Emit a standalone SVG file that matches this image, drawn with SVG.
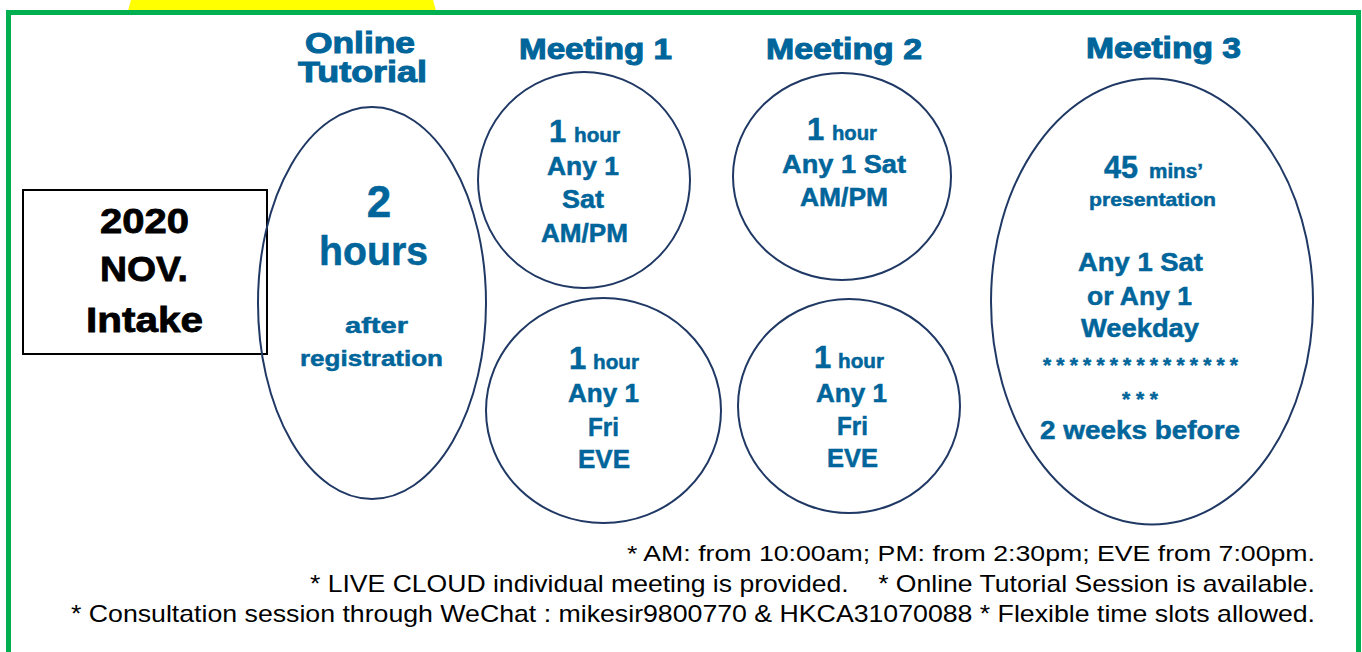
<svg xmlns="http://www.w3.org/2000/svg" width="1362" height="652" viewBox="0 0 1362 652">
<style>
.b{font-family:"Liberation Sans",Arial,sans-serif;font-weight:bold;fill:#00659A;stroke:#00659A;stroke-width:0.5;}
.h{font-size:29px;text-anchor:middle;stroke-width:1;}
.m{font-size:25px;text-anchor:middle;}
.big{font-size:31px;}
.sm{font-size:20px;}
.k{font-family:"Liberation Sans",Arial,sans-serif;font-weight:bold;fill:#000;stroke:#000;stroke-width:0.8;font-size:35px;text-anchor:middle;}
.n{font-family:"Liberation Sans",Arial,sans-serif;fill:#000;text-anchor:end;}
.ring{fill:none;stroke:#1F3864;stroke-width:2;}
</style>
<rect x="0" y="0" width="1362" height="652" fill="#fff"/>
<ellipse cx="282" cy="60" rx="160" ry="182" fill="#FFFF00"/>
<rect x="8.5" y="12.5" width="1350" height="700" fill="#fff" stroke="#00B050" stroke-width="5"/>

<g id="headers">
<text class="b h" x="360" y="53" textLength="110" lengthAdjust="spacingAndGlyphs">Online</text>
<text class="b h" x="362.5" y="82" textLength="129" lengthAdjust="spacingAndGlyphs">Tutorial</text>
<text class="b h" x="595.5" y="59" textLength="153" lengthAdjust="spacingAndGlyphs">Meeting 1</text>
<text class="b h" x="844" y="59" textLength="156" lengthAdjust="spacingAndGlyphs">Meeting 2</text>
<text class="b h" x="1163.5" y="58" textLength="155" lengthAdjust="spacingAndGlyphs">Meeting 3</text>
</g>

<g id="intake">
<rect x="23" y="190" width="244" height="164" fill="none" stroke="#000" stroke-width="2"/>
<text class="k" x="144.5" y="233" textLength="89" lengthAdjust="spacingAndGlyphs">2020</text>
<text class="k" x="144" y="281" textLength="88" lengthAdjust="spacingAndGlyphs">NOV.</text>
<text class="k" x="144.5" y="332" textLength="117" lengthAdjust="spacingAndGlyphs">Intake</text>
</g>

<g id="online-tutorial">
<ellipse class="ring" cx="372" cy="303" rx="114" ry="196"/>
<text class="b" x="379" y="217" font-size="44" text-anchor="middle">2</text>
<text class="b" x="373.5" y="265" font-size="40" text-anchor="middle" textLength="109" lengthAdjust="spacingAndGlyphs">hours</text>
<text class="b" x="376.5" y="333" font-size="22" text-anchor="middle" textLength="63" lengthAdjust="spacingAndGlyphs">after</text>
<text class="b" x="371.5" y="366" font-size="22" text-anchor="middle" textLength="143" lengthAdjust="spacingAndGlyphs">registration</text>
</g>

<g id="meeting1-sat">
<ellipse class="ring" cx="584" cy="180" rx="106" ry="108"/>
<text class="b big" x="549" y="142">1</text>
<text class="b sm" x="574" y="142" textLength="46" lengthAdjust="spacingAndGlyphs">hour</text>
<text class="b m" x="583" y="175" textLength="72" lengthAdjust="spacingAndGlyphs">Any 1</text>
<text class="b m" x="583" y="208" textLength="42" lengthAdjust="spacingAndGlyphs">Sat</text>
<text class="b m" x="584.5" y="242" textLength="87" lengthAdjust="spacingAndGlyphs">AM/PM</text>
</g>

<g id="meeting1-fri">
<ellipse class="ring" cx="603.5" cy="410.5" rx="117.5" ry="112.5"/>
<text class="b big" x="569" y="369">1</text>
<text class="b sm" x="593" y="369" textLength="46" lengthAdjust="spacingAndGlyphs">hour</text>
<text class="b m" x="603.5" y="402" textLength="71" lengthAdjust="spacingAndGlyphs">Any 1</text>
<text class="b m" x="603.5" y="436" textLength="31" lengthAdjust="spacingAndGlyphs">Fri</text>
<text class="b m" x="604" y="468" textLength="52" lengthAdjust="spacingAndGlyphs">EVE</text>
</g>

<g id="meeting2-sat">
<ellipse class="ring" cx="842" cy="176.5" rx="109" ry="103.5"/>
<text class="b big" x="807" y="140">1</text>
<text class="b sm" x="832" y="140" textLength="45" lengthAdjust="spacingAndGlyphs">hour</text>
<text class="b m" x="844" y="173" textLength="124" lengthAdjust="spacingAndGlyphs">Any 1 Sat</text>
<text class="b m" x="844" y="206" textLength="88" lengthAdjust="spacingAndGlyphs">AM/PM</text>
</g>

<g id="meeting2-fri">
<ellipse class="ring" cx="849" cy="406" rx="111" ry="107"/>
<text class="b big" x="814" y="368">1</text>
<text class="b sm" x="838" y="368" textLength="46" lengthAdjust="spacingAndGlyphs">hour</text>
<text class="b m" x="851.5" y="402" textLength="71" lengthAdjust="spacingAndGlyphs">Any 1</text>
<text class="b m" x="852.5" y="435" textLength="31" lengthAdjust="spacingAndGlyphs">Fri</text>
<text class="b m" x="852.5" y="467" textLength="51" lengthAdjust="spacingAndGlyphs">EVE</text>
</g>

<g id="meeting3">
<ellipse class="ring" cx="1152" cy="301.5" rx="161" ry="223"/>
<text class="b big" x="1104" y="178" textLength="34" lengthAdjust="spacingAndGlyphs">45</text>
<text class="b sm" x="1149" y="178" textLength="54" lengthAdjust="spacingAndGlyphs">mins’</text>
<text class="b" x="1152.5" y="206" font-size="19" text-anchor="middle" textLength="127" lengthAdjust="spacingAndGlyphs">presentation</text>
<text class="b m" x="1140.5" y="271" textLength="125" lengthAdjust="spacingAndGlyphs">Any 1 Sat</text>
<text class="b m" x="1139.5" y="305" textLength="105" lengthAdjust="spacingAndGlyphs">or Any 1</text>
<text class="b m" x="1140" y="337" textLength="118" lengthAdjust="spacingAndGlyphs">Weekday</text>
<text class="b" x="1140.5" y="372" font-size="21" text-anchor="middle" stroke-width="0.3" textLength="195" lengthAdjust="spacing">***************</text>
<text class="b" x="1140" y="406" font-size="21" text-anchor="middle" stroke-width="0.3" textLength="36" lengthAdjust="spacing">***</text>
<text class="b m" x="1140" y="439" textLength="200" lengthAdjust="spacingAndGlyphs">2 weeks before</text>
</g>

<g id="connectors"></g>

<g id="notes">
<text class="n" x="1315" y="561" font-size="22" textLength="688" lengthAdjust="spacingAndGlyphs">* AM: from 10:00am; PM: from 2:30pm; EVE from 7:00pm.</text>
<text class="n" x="1315" y="592" font-size="24" textLength="1005" lengthAdjust="spacingAndGlyphs" xml:space="preserve">* LIVE CLOUD individual meeting is provided.    * Online Tutorial Session is available.</text>
<text class="n" x="1315" y="622" font-size="24" textLength="1244" lengthAdjust="spacingAndGlyphs">* Consultation session through WeChat : mikesir9800770 &amp; HKCA31070088 * Flexible time slots allowed.</text>
</g>
</svg>
